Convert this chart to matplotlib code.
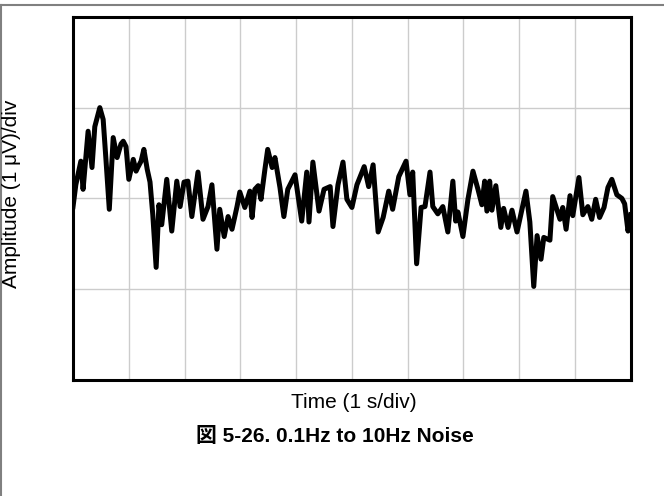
import matplotlib.pyplot as plt
from matplotlib.lines import Line2D

plt.rcParams['font.family'] = ['Liberation Sans', 'Noto Sans CJK JP', 'DejaVu Sans']

# ---------------------------
# 0.1Hz - 10Hz noise trace (time in s, amplitude in uV)
# ---------------------------
time_s = [0.00, 0.05, 0.11, 0.14, 0.18, 0.27, 0.34, 0.39, 0.48, 0.54,
          0.59, 0.65, 0.72, 0.79, 0.86, 0.90, 0.95, 1.00, 1.08, 1.13,
          1.16, 1.22, 1.27, 1.33, 1.38, 1.43, 1.49, 1.54, 1.59, 1.68,
          1.77, 1.86, 1.92, 1.99, 2.06, 2.13, 2.24, 2.33, 2.42, 2.49,
          2.58, 2.63, 2.71, 2.78, 2.85, 2.94, 2.99, 3.08, 3.17, 3.21,
          3.26, 3.32, 3.37, 3.44, 3.49, 3.57, 3.62, 3.71, 3.78, 3.85,
          3.98, 4.10, 4.19, 4.23, 4.30, 4.41, 4.50, 4.61, 4.66, 4.75,
          4.84, 4.91, 5.00, 5.09, 5.22, 5.30, 5.38, 5.47, 5.56, 5.66,
          5.73, 5.84, 5.97, 6.04, 6.09, 6.16, 6.24, 6.31, 6.40, 6.45,
          6.54, 6.63, 6.72, 6.81, 6.86, 6.90, 6.99, 7.08, 7.17, 7.26,
          7.33, 7.38, 7.42, 7.47, 7.51, 7.58, 7.67, 7.72, 7.80, 7.87,
          7.96, 8.12, 8.19, 8.26, 8.32, 8.39, 8.44, 8.55, 8.60, 8.73,
          8.78, 8.84, 8.91, 8.96, 9.07, 9.14, 9.23, 9.30, 9.37, 9.44,
          9.52, 9.59, 9.66, 9.75, 9.84, 9.89, 9.95, 10.00]

noise_uv = [-0.09, 0.15, 0.32, 0.41, 0.10, 0.74, 0.34, 0.79, 1.00, 0.87,
            0.43, -0.12, 0.67, 0.45, 0.60, 0.63, 0.57, 0.21, 0.43, 0.30,
            0.34, 0.41, 0.54, 0.32, 0.18, -0.18, -0.76, -0.07, -0.29, 0.21,
            -0.36, 0.19, -0.09, 0.18, 0.19, -0.20, 0.29, -0.23, -0.09, 0.15,
            -0.56, -0.12, -0.42, -0.20, -0.34, -0.09, 0.07, -0.10, 0.08, -0.21,
            0.10, 0.14, -0.01, 0.32, 0.54, 0.34, 0.45, 0.12, -0.20, 0.10,
            0.26, -0.25, 0.29, -0.26, 0.40, -0.14, 0.10, 0.13, -0.31, 0.15,
            0.40, -0.01, -0.10, 0.15, 0.35, 0.13, 0.37, -0.37, -0.21, 0.08,
            -0.12, 0.24, 0.41, 0.04, 0.29, -0.72, -0.10, -0.09, 0.29, -0.09,
            -0.17, -0.09, -0.37, 0.19, -0.25, -0.15, -0.42, -0.01, 0.30, 0.10,
            -0.07, 0.19, -0.14, 0.19, -0.13, 0.14, -0.32, -0.11, -0.32, -0.13,
            -0.37, 0.08, -0.26, -0.97, -0.41, -0.67, -0.43, -0.46, 0.02, -0.23,
            -0.10, -0.34, 0.03, -0.19, 0.23, -0.18, -0.09, -0.23, -0.01, -0.21,
            -0.10, 0.12, 0.21, 0.04, 0.00, -0.06, -0.36, -0.18]

x_divs = list(range(0, 11))
y_divs = [-2, -1, 0, 1, 2]

# ---------------------------
# plot
# ---------------------------
fig = plt.figure(figsize=(6.64, 4.96), dpi=100)
ax = fig.add_axes([0.110, 0.234, 0.840, 0.732])

ax.plot(time_s, noise_uv, color='black', lw=3.6, solid_joinstyle='round')

ax.set_xlim(0, 10)
ax.set_ylim(-2, 2)
ax.set_xticks(x_divs)
ax.set_yticks(y_divs)
ax.tick_params(length=0, labelbottom=False, labelleft=False)
ax.grid(True, color='#cccccc', lw=1.0)
ax.set_axisbelow(True)
for sp in ax.spines.values():
    sp.set_linewidth(2.2)
    sp.set_color('black')

fig.text(0.533, 0.1875, 'Time (1 s/div)', ha='center', va='center', fontsize=15)
fig.text(0.018, 0.61, 'Amplitude (1 \u03bcV)/div', ha='center', va='center',
         rotation=90, fontsize=15)
fig.text(0.505, 0.119, '図 5-26. 0.1Hz to 10Hz Noise', ha='center', va='center',
         fontsize=15, fontweight='bold')

# figure frame (top and left edges visible)
fig.add_artist(Line2D([0, 1], [0.990, 0.990], transform=fig.transFigure,
                      color='#808080', lw=1.5))
fig.add_artist(Line2D([0.0015, 0.0015], [0, 0.990], transform=fig.transFigure,
                      color='#808080', lw=1.5))

fig.savefig('out.png', dpi=100)
